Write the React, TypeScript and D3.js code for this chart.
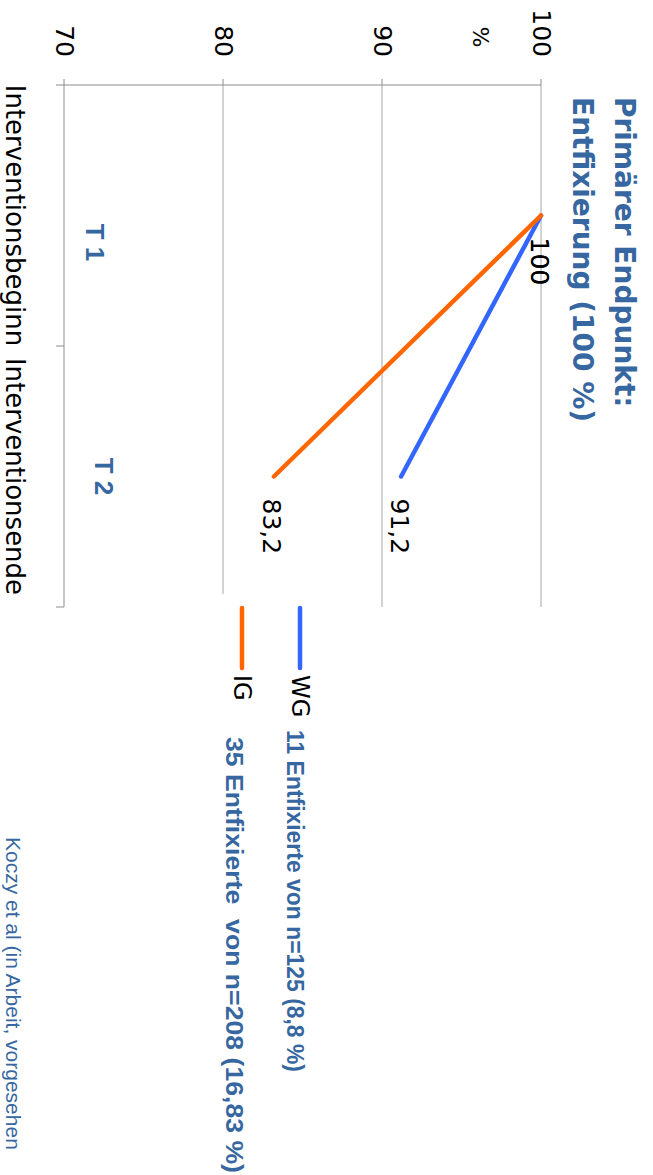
import React from "react";
import * as d3 from "d3";

// ---- data ----
const categories = ["Interventionsbeginn", "Interventionsende"];
const wgValues = [100, 91.2];
const igValues = [100, 83.2];
const valueTicks = [70, 80, 90, 100];
const seriesNames = ["WG", "IG"];
const seriesColors = ["#3366FF", "#FF6600"];
const seriesNotes = ["11 Entfixierte von n=125 (8,8 %)", "35 Entfixierte  von n=208 (16,83 %)"];
const phaseLabels = ["T 1", "T 2"];
const titleLines = ["Primärer Endpunkt:", "Entfixierung (100 %)"];
const axisUnit = "%";
const citation = "Koczy et al (in Arbeit, vorgesehen";

// screen size (portrait); drawing is done in landscape and rotated 90° clockwise
const W = 653;
const H = 1175;

const BLUE_TEXT = "#3767A0";
const SANS = "'DejaVu Sans', sans-serif";
const ARIAL = "'Liberation Sans', Arial, sans-serif";

export default function App() {
  const x = d3.scaleBand<string>().domain(categories).range([85, 607]).padding(0);
  const y = d3.scaleLinear().domain([70, 100]).range([589, 112]);
  const cx = (c: string) => (x(c) as number) + x.bandwidth() / 2;

  const series = [
    { name: seriesNames[0], values: wgValues, color: seriesColors[0], note: seriesNotes[0] },
    { name: seriesNames[1], values: igValues, color: seriesColors[1], note: seriesNotes[1] },
  ];

  const line = d3
    .line<number>()
    .x((_, i) => cx(categories[i]))
    .y((d) => y(d));

  const fmt = (v: number) => String(v).replace(".", ",");
  const boundaries = [...categories.map((c) => x(c) as number), x.range()[1]];
  const [u0, u1] = x.range();
  const vBase = y(valueTicks[0]);
  const vTop = y(valueTicks[valueTicks.length - 1]);

  return (
    <svg
      width={W}
      height={H}
      style={{ position: "absolute", left: 0, top: 0, background: "#fff" }}
    >
      <rect x={0} y={0} width={W} height={H} fill="#fff" />
      <g transform={`translate(${W},0) rotate(90)`}>
        {/* title */}
        {titleLines.map((t, i) => (
          <text
            key={t}
            x={97}
            y={38 + i * 42}
            fontFamily={SANS}
            fontWeight="bold"
            fontSize={28}
            fill={BLUE_TEXT}
          >
            {t}
          </text>
        ))}

        {/* gridlines */}
        {valueTicks.slice(1).map((t) => (
          <line key={"g" + t} x1={u0} x2={u1} y1={y(t)} y2={y(t)} stroke="#A6A6A6" strokeWidth={1} />
        ))}
        {/* value axis */}
        <line x1={u0} x2={u0} y1={vTop} y2={vBase} stroke="#8C8C8C" strokeWidth={1} />
        {valueTicks.map((t) => (
          <line key={"t" + t} x1={u0 - 6} x2={u0} y1={y(t)} y2={y(t)} stroke="#8C8C8C" strokeWidth={1} />
        ))}
        {valueTicks.map((t) => (
          <text
            key={"l" + t}
            x={57}
            y={y(t)}
            textAnchor="end"
            dominantBaseline="central"
            fontFamily={SANS}
            fontSize={25}
            fill="#000"
          >
            {t}
          </text>
        ))}
        <text x={37} y={y(96.2)} textAnchor="middle" dominantBaseline="central" fontFamily={SANS} fontSize={22} fill="#000">
          {axisUnit}
        </text>

        {/* category axis */}
        <line x1={u0} x2={u1} y1={vBase} y2={vBase} stroke="#8C8C8C" strokeWidth={1} />
        {boundaries.map((b, i) => (
          <line key={"cb" + i} x1={b} x2={b} y1={vBase} y2={vBase + 8} stroke="#8C8C8C" strokeWidth={1} />
        ))}
        {categories.map((c) => (
          <text key={c} x={cx(c)} y={647} textAnchor="middle" fontFamily={SANS} fontSize={26} fill="#000">
            {c}
          </text>
        ))}

        {/* phase labels */}
        {phaseLabels.map((p, i) => (
          <text
            key={p}
            x={cx(categories[i]) + (i === 0 ? 27 : 0)}
            y={i === 0 ? 558 : 549}
            textAnchor="middle"
            dominantBaseline="central"
            fontFamily={ARIAL}
            fontWeight="bold"
            fontSize={26}
            fill={BLUE_TEXT}
          >
            {p}
          </text>
        ))}

        {/* series */}
        {series.map((s) => (
          <path
            key={s.name}
            d={line(s.values) as string}
            fill="none"
            stroke={s.color}
            strokeWidth={4.5}
            strokeLinecap="round"
          />
        ))}
        {series.map((s) =>
          s.values.map((v, i) => (
            <text
              key={s.name + i}
              x={cx(categories[i]) + 22}
              y={y(v) + 2}
              dominantBaseline="central"
              fontFamily={SANS}
              fontSize={25}
              fill="#000"
            >
              {fmt(v)}
            </text>
          ))
        )}

        {/* legend */}
        <rect x={594} y={330} width={110} height={130} fill="#fff" />
        {series.map((s, i) => {
          const v = i === 0 ? 353 : 411;
          return (
            <g key={"lg" + s.name}>
              <line x1={608} x2={668} y1={v} y2={v} stroke={s.color} strokeWidth={4.5} strokeLinecap="round" />
              <text x={675} y={v} dominantBaseline="central" fontFamily={SANS} fontSize={24} fill="#000">
                {s.name}
              </text>
              <text
                x={i === 0 ? 730 : 737}
                y={v + (i === 0 ? 5 : 8)}
                dominantBaseline="central"
                fontFamily={ARIAL}
                fontWeight="bold"
                fontSize={24}
                fill={BLUE_TEXT}
                textLength={i === 0 ? 342 : 436}
                lengthAdjust="spacingAndGlyphs"
                style={{ whiteSpace: "pre" }}
              >
                {s.note}
              </text>
            </g>
          );
        })}

        {/* citation */}
        <text x={837} y={647} fontFamily={ARIAL} fontSize={21} fill={BLUE_TEXT}>
          {citation}
        </text>
      </g>
    </svg>
  );
}
